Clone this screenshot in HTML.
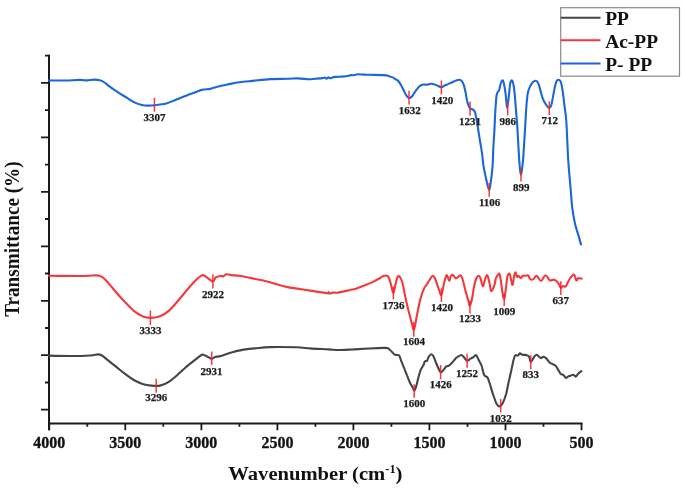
<!DOCTYPE html>
<html><head><meta charset="utf-8"><style>
html,body{margin:0;padding:0;background:#fff;}
svg{display:block;filter:blur(0.3px);}
text{font-family:"Liberation Serif",serif;font-weight:bold;fill:#111;}
.tl{font-size:16px;text-anchor:middle;stroke:#111;stroke-width:0.3px;}
.pl{font-size:11px;text-anchor:middle;fill:#1a1a1a;stroke:#1a1a1a;stroke-width:0.25px;}
.at{font-size:20px;text-anchor:middle;}
.lg{font-size:18px;}
.cv{fill:none;stroke-width:2.1;stroke-linejoin:round;stroke-linecap:round;}
</style></head><body>
<svg width="685" height="491" viewBox="0 0 685 491">
<rect width="685" height="491" fill="#fff"/>
<path d="M49,54.7 V430.3 M48,423.4 H582.5" stroke="#1a1a1a" stroke-width="2" fill="none"/>
<path d="M45,55.6 H49 M41,82.8 H49 M45,110.1 H49 M41,137.3 H49 M45,164.6 H49 M41,191.8 H49 M45,219.0 H49 M41,246.3 H49 M45,273.5 H49 M41,300.8 H49 M45,328.0 H49 M41,355.2 H49 M45,382.5 H49 M41,409.7 H49 M49.3,423 V430.3 M87.3,423 V426.8 M125.3,423 V430.3 M163.3,423 V426.8 M201.4,423 V430.3 M239.4,423 V426.8 M277.4,423 V430.3 M315.4,423 V426.8 M353.4,423 V430.3 M391.4,423 V426.8 M429.4,423 V430.3 M467.5,423 V426.8 M505.5,423 V430.3 M543.5,423 V426.8 M581.5,423 V430.3" stroke="#1a1a1a" stroke-width="1.8" fill="none"/>
<text transform="translate(49.30,447.60) scale(1.000,1.000)" class="tl">4000</text>
<text transform="translate(125.33,447.60) scale(1.000,1.000)" class="tl">3500</text>
<text transform="translate(201.36,447.60) scale(1.000,1.000)" class="tl">3000</text>
<text transform="translate(277.39,447.60) scale(1.000,1.000)" class="tl">2500</text>
<text transform="translate(353.42,447.60) scale(1.000,1.000)" class="tl">2000</text>
<text transform="translate(429.45,447.60) scale(1.000,1.000)" class="tl">1500</text>
<text transform="translate(505.48,447.60) scale(1.000,1.000)" class="tl">1000</text>
<text transform="translate(581.51,447.60) scale(1.000,1.000)" class="tl">500</text>
<path d="M49.0,355.6 C52.4,355.7 62.4,356.0 69.2,356.0 C76.0,356.0 85.2,355.8 90.0,355.5 C94.8,355.2 95.9,354.4 97.9,354.4 C99.9,354.4 100.4,354.6 102.0,355.5 C103.6,356.4 105.1,358.0 107.5,359.9 C109.9,361.8 113.4,364.6 116.3,366.9 C119.2,369.2 122.1,371.7 125.0,373.9 C127.9,376.1 130.9,378.3 133.8,380.0 C136.7,381.7 139.6,383.0 142.5,383.9 C145.4,384.8 148.4,385.3 151.3,385.6 C154.2,385.9 157.1,386.2 160.0,385.6 C162.9,385.0 165.9,383.6 168.8,381.8 C171.7,380.0 174.7,377.3 177.6,374.8 C180.5,372.3 183.4,369.4 186.3,366.9 C189.2,364.4 192.4,361.9 195.0,359.9 C197.6,357.9 200.4,355.6 202.0,354.8 C203.6,354.0 203.5,354.9 204.5,355.2 C205.5,355.5 206.7,356.3 207.9,356.9 C209.1,357.5 210.5,358.9 211.7,358.9 C212.9,358.9 213.6,357.4 215.2,356.9 C216.8,356.4 218.3,356.8 221.0,356.0 C223.7,355.2 227.7,353.5 231.5,352.4 C235.3,351.3 239.9,350.3 243.8,349.6 C247.7,348.9 250.4,348.8 254.8,348.4 C259.2,348.0 263.1,347.3 270.0,347.1 C276.9,346.9 289.6,347.1 296.3,347.3 C303.0,347.5 304.6,348.0 310.0,348.4 C315.4,348.8 324.1,349.1 329.0,349.4 C333.9,349.7 335.1,350.0 339.2,350.0 C343.3,350.0 348.9,349.6 353.8,349.4 C358.7,349.1 363.0,348.8 368.4,348.5 C373.8,348.2 382.4,347.7 385.9,347.9 C389.4,348.1 388.4,348.7 389.5,349.5 C390.6,350.3 391.7,351.7 392.5,352.5 C393.3,353.3 393.8,354.1 394.5,354.5 C395.2,354.9 396.2,354.8 397.0,355.0 C397.8,355.2 398.6,354.6 399.3,355.7 C400.0,356.8 400.6,359.3 401.4,361.4 C402.2,363.5 403.4,366.1 404.3,368.5 C405.2,370.9 406.2,373.2 407.1,375.6 C408.1,378.0 409.1,380.8 410.0,382.8 C410.9,384.8 412.1,386.5 412.8,387.8 C413.6,389.1 413.9,391.0 414.5,390.6 C415.1,390.2 415.7,387.9 416.4,385.6 C417.1,383.4 417.8,379.7 418.5,377.1 C419.2,374.5 419.9,371.9 420.7,369.9 C421.5,367.9 422.8,366.4 423.5,365.0 C424.2,363.6 424.3,362.1 424.9,361.4 C425.5,360.7 426.5,361.4 427.1,360.7 C427.7,360.0 427.8,358.2 428.5,357.1 C429.2,356.0 430.5,354.4 431.3,354.3 C432.1,354.2 432.7,354.9 433.5,356.4 C434.3,357.9 435.4,361.2 436.3,363.5 C437.2,365.8 438.4,368.4 439.2,369.9 C440.0,371.4 440.3,372.5 441.0,372.5 C441.7,372.5 442.6,370.9 443.5,369.9 C444.4,368.9 445.5,367.1 446.3,366.4 C447.1,365.7 447.7,366.4 448.5,365.9 C449.3,365.4 450.1,364.7 451.3,363.5 C452.5,362.3 454.6,359.6 455.6,358.5 C456.6,357.4 456.3,357.7 457.3,357.1 C458.3,356.5 460.3,355.0 461.4,355.0 C462.5,355.0 462.9,356.1 463.8,357.1 C464.8,358.1 466.0,360.5 467.1,360.8 C468.2,361.1 469.2,359.3 470.3,358.7 C471.4,358.1 472.7,357.7 473.6,357.1 C474.6,356.5 475.3,354.9 476.0,355.0 C476.7,355.1 477.1,356.9 477.7,357.9 C478.2,358.9 478.6,359.8 479.3,361.2 C480.0,362.6 480.9,363.7 481.7,366.0 C482.5,368.3 483.2,373.1 484.2,375.0 C485.1,376.9 486.4,375.9 487.4,377.4 C488.3,378.9 489.1,381.6 489.9,384.0 C490.7,386.4 491.6,389.9 492.3,392.1 C493.0,394.3 493.3,395.1 494.0,397.0 C494.7,398.9 495.4,401.9 496.4,403.5 C497.3,405.1 498.6,406.5 499.7,406.4 C500.8,406.3 501.8,404.8 502.9,402.7 C504.0,400.6 505.2,397.1 506.2,393.7 C507.1,390.3 507.7,386.2 508.6,382.3 C509.5,378.4 510.6,373.6 511.4,370.0 C512.2,366.4 512.8,362.9 513.4,360.5 C514.0,358.1 514.5,356.2 515.2,355.4 C516.0,354.6 517.1,355.9 517.9,355.6 C518.7,355.3 519.1,353.5 519.8,353.4 C520.5,353.2 521.4,354.4 522.2,354.7 C523.0,354.9 523.8,354.8 524.7,354.9 C525.6,355.0 526.9,355.2 527.7,355.6 C528.5,356.0 528.8,356.1 529.3,357.1 C529.8,358.1 530.0,361.3 530.5,361.7 C531.0,362.1 532.0,360.4 532.6,359.5 C533.2,358.6 533.7,357.3 534.4,356.5 C535.1,355.7 535.9,354.7 536.6,354.7 C537.3,354.7 538.0,355.9 538.7,356.5 C539.5,357.1 540.4,358.1 541.1,358.1 C541.8,358.2 542.3,356.9 543.0,356.8 C543.7,356.7 544.7,357.2 545.4,357.7 C546.1,358.1 546.5,358.7 547.2,359.5 C547.9,360.3 548.8,361.8 549.7,362.6 C550.6,363.4 551.7,363.6 552.7,364.2 C553.7,364.8 554.9,364.9 555.8,365.9 C556.7,366.8 557.4,368.6 558.2,369.9 C559.0,371.2 559.9,373.1 560.7,373.9 C561.5,374.7 562.5,374.4 563.1,374.8 C563.7,375.2 563.8,375.5 564.3,376.0 C564.8,376.5 565.3,377.8 565.9,377.9 C566.5,378.0 567.2,377.0 568.0,376.6 C568.8,376.2 569.6,376.0 570.4,375.7 C571.2,375.4 572.2,374.8 572.9,374.8 C573.6,374.8 574.2,375.4 574.7,375.7 C575.2,376.0 575.4,376.9 575.9,376.6 C576.4,376.4 577.2,374.9 577.8,374.2 C578.4,373.5 579.0,372.9 579.6,372.4 C580.2,371.9 581.1,371.3 581.4,371.1" stroke="#454545" class="cv"/>
<path d="M49.0,275.8 C54.8,275.8 76.0,276.1 83.8,276.0 C91.6,275.9 93.3,275.4 96.0,275.4 C98.7,275.4 98.8,275.6 100.0,276.0 C101.2,276.4 101.8,276.5 103.0,277.5 C104.2,278.5 105.3,279.5 107.5,282.0 C109.7,284.5 113.4,289.1 116.3,292.5 C119.2,295.9 122.1,299.0 125.0,302.1 C127.9,305.2 130.9,308.5 133.8,310.9 C136.7,313.2 139.7,315.0 142.5,316.2 C145.3,317.4 147.5,317.9 150.4,317.9 C153.3,317.9 156.9,317.4 160.0,316.2 C163.1,315.0 165.9,313.4 168.8,310.9 C171.7,308.4 174.7,304.6 177.6,301.3 C180.5,298.0 183.4,294.2 186.3,290.8 C189.2,287.4 192.7,283.5 195.0,281.1 C197.3,278.7 198.7,277.5 200.0,276.5 C201.3,275.5 201.9,275.1 202.8,275.1 C203.7,275.1 203.9,275.4 205.6,276.5 C207.3,277.6 211.2,281.4 212.9,281.5 C214.6,281.6 214.5,278.3 215.6,277.4 C216.7,276.5 218.2,276.6 219.3,276.3 C220.4,276.0 221.3,275.8 222.0,275.8 C222.7,275.8 222.7,276.8 223.4,276.5 C224.1,276.2 224.9,274.4 226.2,274.2 C227.5,274.0 228.8,274.8 231.2,275.1 C233.6,275.4 237.3,275.5 240.4,276.0 C243.5,276.5 246.2,277.1 250.0,277.9 C253.8,278.7 257.3,279.1 263.4,280.6 C269.5,282.1 278.9,285.2 286.7,286.9 C294.5,288.6 304.2,289.7 310.1,290.6 C316.0,291.5 319.1,292.0 322.0,292.4 C324.9,292.8 326.4,293.2 327.5,293.2 C328.6,293.1 328.2,292.0 328.6,292.1 C329.0,292.2 328.9,293.5 329.6,293.6 C330.3,293.7 331.6,292.8 333.0,292.6 C334.4,292.4 335.7,292.9 338.1,292.6 C340.5,292.3 345.2,291.1 347.5,290.6 C349.8,290.1 350.4,290.0 352.0,289.6 C353.6,289.2 355.0,289.0 356.8,288.4 C358.6,287.8 360.7,286.9 363.0,286.0 C365.3,285.1 368.6,283.8 370.8,282.9 C373.0,281.9 374.4,281.1 376.0,280.3 C377.6,279.5 379.0,278.7 380.2,278.0 C381.4,277.3 382.2,276.5 383.3,276.1 C384.4,275.7 385.6,275.3 386.5,275.6 C387.4,275.9 388.2,276.2 389.0,278.0 C389.8,279.8 390.7,283.8 391.4,286.2 C392.1,288.6 392.7,293.0 393.4,292.7 C394.1,292.4 394.9,287.1 395.5,284.6 C396.1,282.2 396.5,279.4 397.1,278.0 C397.7,276.6 398.4,275.6 399.2,276.1 C400.0,276.7 401.1,278.5 402.0,281.3 C402.9,284.1 403.7,288.9 404.5,292.7 C405.3,296.5 405.9,300.0 406.9,304.1 C407.8,308.2 409.2,313.5 410.2,317.2 C411.1,320.9 412.0,323.9 412.6,326.1 C413.2,328.3 413.4,330.3 413.8,330.2 C414.2,330.1 414.5,328.3 415.1,325.3 C415.7,322.3 416.6,316.9 417.5,312.3 C418.4,307.7 419.7,301.6 420.8,297.6 C421.9,293.7 422.9,290.9 424.0,288.6 C425.1,286.3 426.4,285.3 427.3,283.8 C428.2,282.3 428.9,281.0 429.7,279.7 C430.5,278.4 431.4,276.5 432.2,276.1 C433.0,275.7 433.5,275.8 434.3,277.1 C435.1,278.5 436.3,281.9 437.1,284.2 C437.9,286.5 438.6,288.9 439.3,290.7 C440.0,292.5 440.7,295.7 441.4,294.9 C442.1,294.1 442.8,288.7 443.5,285.7 C444.2,282.7 445.1,278.8 445.7,277.1 C446.3,275.4 446.5,274.8 447.1,275.4 C447.7,276.0 448.6,280.5 449.2,280.7 C449.8,280.9 450.1,277.3 450.7,276.4 C451.3,275.4 452.0,274.7 452.8,275.0 C453.6,275.3 454.9,277.8 455.7,278.2 C456.5,278.6 457.0,277.6 457.8,277.1 C458.6,276.6 459.9,274.9 460.7,275.4 C461.5,275.9 462.0,277.3 462.8,280.0 C463.6,282.7 464.7,287.8 465.6,291.4 C466.6,294.9 467.8,298.9 468.5,301.3 C469.2,303.7 469.3,306.1 469.9,305.6 C470.5,305.1 471.4,301.8 472.1,298.5 C472.8,295.2 473.5,289.0 474.2,285.7 C474.9,282.4 475.6,280.2 476.3,278.5 C477.0,276.8 477.8,275.7 478.5,275.7 C479.2,275.7 479.9,276.7 480.6,278.5 C481.3,280.3 482.1,286.1 482.8,286.4 C483.5,286.6 484.2,281.9 484.9,280.0 C485.6,278.1 486.3,274.8 487.0,275.0 C487.7,275.2 488.5,278.8 489.2,281.4 C489.9,284.0 490.4,289.5 491.0,290.7 C491.6,291.9 492.4,289.4 493.0,288.5 C493.6,287.6 494.0,286.7 494.5,285.0 C495.0,283.3 495.3,280.1 495.8,278.5 C496.3,276.9 496.9,276.3 497.5,275.5 C498.1,274.7 498.9,272.8 499.5,273.9 C500.1,275.0 500.5,278.9 501.0,281.9 C501.5,284.9 501.9,289.3 502.4,292.1 C502.9,294.9 503.6,299.2 504.2,298.7 C504.8,298.2 505.2,293.0 505.8,289.2 C506.4,285.4 506.9,278.7 507.5,276.1 C508.1,273.6 509.1,273.2 509.7,273.9 C510.3,274.6 510.7,278.6 511.2,280.4 C511.7,282.2 512.1,285.5 512.6,284.8 C513.1,284.1 513.6,278.2 514.1,276.1 C514.6,274.0 515.0,272.3 515.5,272.4 C516.0,272.5 516.5,276.2 517.0,276.8 C517.5,277.4 517.9,275.6 518.5,275.8 C519.1,276.0 520.0,278.2 520.7,278.2 C521.4,278.2 521.9,276.2 522.8,275.8 C523.6,275.4 524.9,275.9 525.8,275.8 C526.7,275.7 527.5,274.8 528.2,275.3 C528.9,275.8 529.3,278.3 530.1,279.0 C530.9,279.7 532.0,279.9 533.1,279.4 C534.2,278.9 535.4,275.6 536.7,275.8 C538.0,276.1 539.6,281.0 541.1,280.9 C542.6,280.8 544.0,275.4 545.5,275.3 C547.0,275.2 548.4,279.7 549.9,280.4 C551.4,281.1 552.9,279.3 554.2,279.7 C555.5,280.1 556.8,281.3 557.9,282.6 C559.0,283.9 559.9,287.1 560.8,287.7 C561.6,288.3 562.1,286.2 563.0,286.0 C563.9,285.8 564.8,287.5 565.9,286.3 C567.0,285.1 568.3,280.9 569.6,279.0 C570.9,277.1 572.8,274.4 573.9,274.6 C575.0,274.8 575.7,279.8 576.4,280.4 C577.1,281.0 577.4,278.5 578.3,278.2 C579.2,277.9 581.1,278.6 581.7,278.7" stroke="#f23a3d" class="cv"/>
<path d="M49.0,80.4 C51.7,80.4 59.8,80.6 65.0,80.5 C70.2,80.4 76.3,79.9 80.0,79.9 C83.7,79.9 84.7,80.5 87.0,80.4 C89.3,80.4 91.8,79.6 94.0,79.6 C96.2,79.6 98.2,79.7 99.9,80.2 C101.7,80.7 102.8,81.3 104.5,82.5 C106.2,83.7 108.2,85.6 110.4,87.2 C112.6,88.8 114.7,90.2 117.4,91.9 C120.1,93.7 123.8,95.9 126.7,97.7 C129.6,99.5 132.4,101.4 134.9,102.6 C137.4,103.8 139.8,104.4 141.9,104.9 C144.1,105.4 145.7,105.5 147.8,105.6 C149.9,105.7 152.7,105.5 154.7,105.3 C156.7,105.1 158.1,104.8 160.0,104.5 C161.9,104.2 163.6,104.3 166.3,103.5 C169.1,102.7 173.1,100.8 176.5,99.5 C179.9,98.2 183.5,96.6 186.7,95.4 C189.9,94.2 192.8,93.2 195.5,92.2 C198.2,91.2 200.4,90.1 202.8,89.6 C205.2,89.0 207.6,89.4 210.0,88.9 C212.4,88.4 214.5,87.4 217.4,86.7 C220.3,86.0 223.9,85.2 227.6,84.5 C231.2,83.8 235.2,82.9 239.3,82.3 C243.5,81.7 247.4,81.4 252.5,80.9 C257.6,80.4 264.1,79.4 270.0,79.1 C275.9,78.8 282.9,78.9 287.6,78.8 C292.3,78.7 294.5,78.3 298.0,78.4 C301.5,78.5 306.0,79.1 308.8,79.2 C311.6,79.3 312.7,79.0 315.0,78.8 C317.3,78.6 321.1,78.3 322.8,78.1 C324.5,77.9 324.4,77.4 325.0,77.5 C325.6,77.6 325.9,78.7 326.5,78.7 C327.1,78.7 327.9,77.5 328.5,77.4 C329.1,77.3 328.9,78.4 330.0,78.3 C331.1,78.2 333.0,77.2 335.0,76.9 C337.0,76.6 339.7,76.8 342.0,76.6 C344.3,76.4 347.6,76.0 349.0,75.7 C350.4,75.4 349.8,75.1 350.5,75.0 C351.2,74.9 351.8,75.4 353.0,75.3 C354.2,75.2 356.0,74.4 357.8,74.3 C359.6,74.2 362.0,74.5 364.0,74.6 C366.0,74.7 366.7,74.7 370.0,74.8 C373.3,74.9 380.8,74.9 384.0,75.1 C387.2,75.3 387.5,75.8 389.0,76.2 C390.5,76.6 391.8,77.0 392.8,77.4 C393.8,77.9 394.1,78.4 395.0,78.9 C395.9,79.5 397.1,79.6 398.1,80.7 C399.1,81.8 400.1,83.5 401.1,85.3 C402.1,87.1 403.3,89.6 404.2,91.4 C405.1,93.2 405.8,94.9 406.7,96.0 C407.6,97.1 408.4,97.9 409.3,98.0 C410.2,98.1 410.9,97.6 411.9,96.5 C412.9,95.4 414.1,93.1 415.4,91.4 C416.7,89.7 418.1,87.5 419.5,86.3 C420.9,85.1 422.4,84.8 423.6,84.5 C424.8,84.2 425.5,84.9 426.7,84.8 C427.9,84.7 429.6,83.8 430.8,83.7 C432.0,83.6 432.6,84.0 433.8,84.3 C435.0,84.6 436.6,85.3 437.9,85.8 C439.2,86.3 440.3,87.4 441.5,87.3 C442.7,87.2 443.9,85.8 445.0,85.3 C446.1,84.8 446.9,84.6 448.1,84.1 C449.3,83.6 450.8,82.8 452.2,82.2 C453.6,81.6 455.1,80.8 456.3,80.4 C457.5,80.0 458.5,79.6 459.4,79.7 C460.3,79.8 461.1,80.3 461.9,81.2 C462.6,82.1 463.3,83.5 463.9,85.3 C464.5,87.1 464.9,89.2 465.5,92.0 C466.1,94.8 466.6,99.5 467.4,102.3 C468.2,105.1 469.3,107.4 470.1,108.6 C470.9,109.8 471.5,108.7 472.3,109.2 C473.1,109.7 474.1,109.9 474.8,111.6 C475.5,113.3 476.1,117.0 476.6,119.6 C477.1,122.1 477.3,123.7 477.8,126.9 C478.3,130.2 479.0,134.6 479.7,139.1 C480.4,143.6 481.5,149.3 482.1,153.8 C482.7,158.3 482.8,161.4 483.5,165.9 C484.2,170.4 485.6,176.6 486.5,180.6 C487.4,184.6 488.3,189.6 489.0,189.8 C489.7,190.0 490.2,185.8 490.8,181.8 C491.4,177.8 492.2,171.8 492.6,165.9 C493.0,160.0 493.1,152.4 493.4,146.5 C493.7,140.6 494.1,136.7 494.4,130.6 C494.7,124.5 495.0,115.8 495.4,110.0 C495.8,104.2 496.1,98.9 496.5,96.0 C496.9,93.1 497.1,93.5 497.5,92.5 C497.9,91.5 498.7,91.5 499.2,90.2 C499.7,88.9 499.9,86.3 500.4,84.7 C500.9,83.1 501.6,80.7 502.2,80.4 C502.8,80.1 503.1,80.5 503.7,82.8 C504.3,85.1 505.1,90.3 505.7,94.5 C506.3,98.7 506.6,107.9 507.1,107.9 C507.7,107.9 508.5,98.6 509.0,94.5 C509.5,90.4 509.7,85.8 510.2,83.5 C510.7,81.2 511.3,80.4 511.8,80.4 C512.3,80.4 512.8,81.6 513.2,83.5 C513.7,85.4 514.1,88.1 514.5,92.0 C514.9,95.9 515.3,101.8 515.7,106.7 C516.1,111.6 516.6,117.5 516.9,121.4 C517.2,125.3 517.1,123.6 517.5,130.0 C517.9,136.4 518.7,152.5 519.2,159.9 C519.8,167.3 520.2,174.0 520.8,174.5 C521.4,175.0 522.2,168.0 522.8,162.7 C523.4,157.4 523.8,149.1 524.2,142.8 C524.6,136.5 525.0,130.4 525.3,125.0 C525.6,119.6 525.7,115.4 526.1,110.3 C526.5,105.2 527.0,98.3 527.6,94.4 C528.2,90.5 528.9,89.1 529.8,87.1 C530.7,85.1 531.8,83.2 532.8,82.2 C533.8,81.2 535.0,80.6 535.9,80.8 C536.8,81.0 537.6,81.9 538.3,83.4 C539.0,84.9 539.5,87.1 540.2,89.6 C540.9,92.0 541.7,95.7 542.6,98.1 C543.5,100.5 544.6,102.6 545.7,104.2 C546.8,105.8 548.2,107.7 549.1,107.9 C550.0,108.1 550.6,107.2 551.2,105.4 C551.9,103.6 552.4,100.0 553.0,96.9 C553.6,93.9 554.2,89.8 554.8,87.1 C555.4,84.4 556.1,82.2 556.7,81.0 C557.3,79.8 557.8,79.6 558.5,79.8 C559.2,80.0 560.2,80.2 560.9,82.2 C561.6,84.2 562.2,87.9 562.8,92.0 C563.4,96.1 564.0,101.6 564.6,106.7 C565.2,111.8 565.8,113.7 566.4,122.5 C567.0,131.3 567.5,149.1 568.2,159.7 C568.9,170.3 569.7,178.2 570.4,186.2 C571.1,194.1 571.5,201.2 572.2,207.4 C573.0,213.6 573.8,218.4 574.9,223.3 C576.0,228.2 577.8,233.1 578.8,236.6 C579.8,240.1 580.6,243.2 581.0,244.5" stroke="#1c67d8" class="cv"/>
<path d="M154.4,97.7 V111.8 M409.0,90.7 V104.5 M441.4,80.4 V94.6 M470.0,101.6 V115.5 M489.2,183.0 V196.8 M507.7,101.8 V115.5 M521.0,167.9 V181.5 M549.3,101.2 V115.0 M150.4,310.5 V325.0 M212.9,274.2 V288.4 M393.4,286.5 V299.2 M413.8,322.0 V336.7 M441.4,288.5 V302.0 M469.9,300.5 V313.5 M504.2,293.6 V306.0 M560.8,281.2 V295.0 M156.2,378.8 V392.8 M211.7,351.6 V365.1 M414.2,384.2 V397.7 M440.6,365.0 V379.2 M467.1,353.8 V367.7 M500.7,399.0 V412.5 M530.8,355.3 V369.3" stroke="#ff1f2a" stroke-width="1.5" fill="none" opacity="0.9"/>
<text x="154.5" y="121.3" class="pl">3307</text>
<text x="409.7" y="114.2" class="pl">1632</text>
<text x="442.3" y="103.6" class="pl">1420</text>
<text x="470.0" y="125.0" class="pl">1231</text>
<text x="489.6" y="206.4" class="pl">1106</text>
<text x="507.7" y="124.5" class="pl">986</text>
<text x="521.3" y="190.6" class="pl">899</text>
<text x="549.7" y="124.1" class="pl">712</text>
<text x="150.4" y="333.9" class="pl">3333</text>
<text x="212.9" y="297.5" class="pl">2922</text>
<text x="393.5" y="308.8" class="pl">1736</text>
<text x="413.9" y="345.2" class="pl">1604</text>
<text x="442.0" y="310.8" class="pl">1420</text>
<text x="470.0" y="322.2" class="pl">1233</text>
<text x="504.2" y="314.7" class="pl">1009</text>
<text x="560.7" y="303.7" class="pl">637</text>
<text x="156.3" y="401.1" class="pl">3296</text>
<text x="211.5" y="374.8" class="pl">2931</text>
<text x="414.2" y="406.5" class="pl">1600</text>
<text x="440.8" y="388.0" class="pl">1426</text>
<text x="467.0" y="376.9" class="pl">1252</text>
<text x="500.8" y="421.7" class="pl">1032</text>
<text x="530.8" y="378.0" class="pl">833</text>
<text transform="translate(315.40,479.80) scale(1.030,0.960)" class="at">Wavenumber (cm<tspan dy="-7" font-size="12">-1</tspan><tspan dy="7">)</tspan></text>
<g transform="translate(19.2,239.1) rotate(-90)"><text transform="translate(0.00,0.00) scale(0.958,1.000)" class="at">Transmittance (%)</text></g>
<rect x="560.7" y="7.7" width="118.8" height="68.5" fill="#fff" stroke="#8a8a8a" stroke-width="1.2"/>
<path d="M560.7,17.8 H600.5" stroke="#454545" stroke-width="2"/>
<path d="M560.7,40.3 H600.5" stroke="#f23a3d" stroke-width="2"/>
<path d="M560.7,63.5 H600.5" stroke="#1c67d8" stroke-width="2"/>
<text transform="translate(605.20,24.50) scale(1.080,1.000)" class="lg">PP</text>
<text transform="translate(605.20,47.80) scale(1.080,1.000)" class="lg">Ac-PP</text>
<text transform="translate(605.20,70.80) scale(1.080,1.000)" class="lg">P- PP</text>
</svg>
</body></html>
